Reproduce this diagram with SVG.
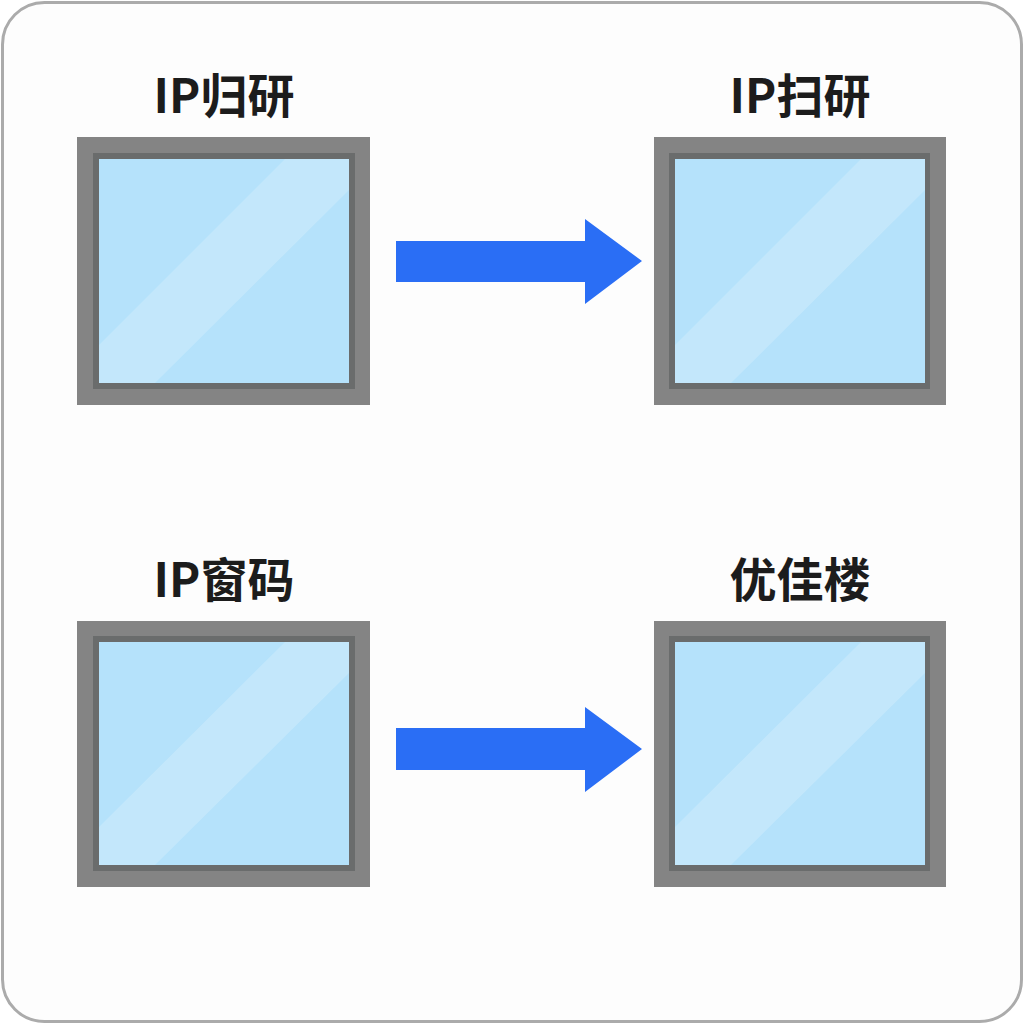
<svg xmlns="http://www.w3.org/2000/svg" width="1024" height="1024" viewBox="0 0 1024 1024">
<style>
.frame{fill:#848484}
.inner{fill:#6a6c6c}
.glass{fill:#b5e2fb}
.shine{fill:#cdebfc;opacity:0.6}
.label{font-family:"Noto Sans CJK SC","Noto Sans",sans-serif;font-weight:bold;font-size:47px;fill:#1c1c1c;text-anchor:middle}
.arrow{fill:#2a6ef5}
</style>
<rect x="2.5" y="2.5" width="1019" height="1019" rx="42" fill="#fdfdfd" stroke="#ababab" stroke-width="3"/>
<g id="node-ip-guiyan">
<text class="label" x="224" y="113">IP归研</text>
<rect class="frame" x="77" y="137" width="293" height="268"/>
<rect class="inner" x="93" y="153" width="262" height="236"/>
<rect class="glass" x="99" y="159" width="250" height="224"/>
<polygon class="shine" points="99,345 285,159 335,159 349,159 349,190 155,383 99,383"/>
</g>
<g id="node-ip-saoyan">
<text class="label" x="800" y="113">IP扫研</text>
<rect class="frame" x="654" y="137" width="292" height="268"/>
<rect class="inner" x="669" y="153" width="261" height="236"/>
<rect class="glass" x="675" y="159" width="250" height="224"/>
<polygon class="shine" points="675,345 861,159 925,159 925,190 731,383 675,383"/>
</g>
<g id="node-ip-chuangma">
<text class="label" x="224" y="597">IP窗码</text>
<rect class="frame" x="77" y="621" width="293" height="266"/>
<rect class="inner" x="93" y="636" width="262" height="235"/>
<rect class="glass" x="99" y="642" width="250" height="223"/>
<polygon class="shine" points="99,827 285,642 349,642 349,673 155,865 99,865"/>
</g>
<g id="node-youjialou">
<text class="label" x="800" y="597">优佳楼</text>
<rect class="frame" x="654" y="621" width="292" height="266"/>
<rect class="inner" x="669" y="636" width="261" height="235"/>
<rect class="glass" x="675" y="642" width="250" height="223"/>
<polygon class="shine" points="675,827 861,642 925,642 925,673 731,865 675,865"/>
</g>
<g id="connectors">
<polygon class="arrow" points="396,241 585,241 585,219 642,261 585,304 585,282 396,282"/>
<polygon class="arrow" points="396,728 585,728 585,707 642,749 585,792 585,770 396,770"/>
</g>
</svg>
